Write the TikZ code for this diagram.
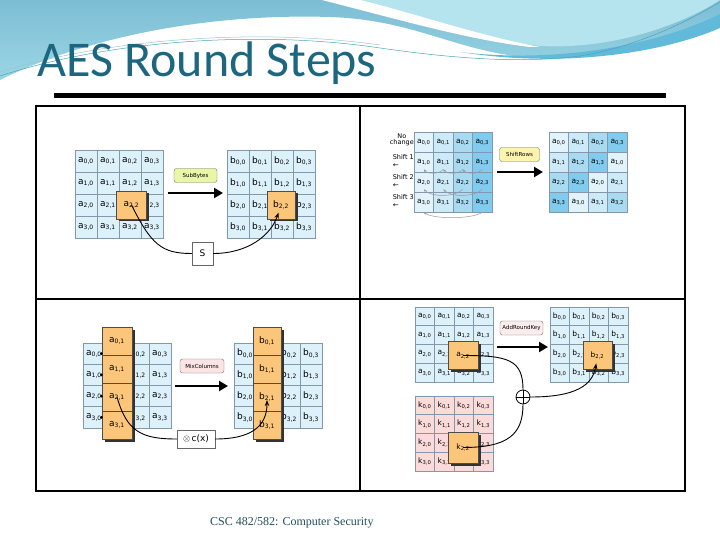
\documentclass[tikz,border=0pt]{standalone}
\usepackage{fontspec}
\setmainfont{Liberation Serif}
\newfontfamily\titlefont{Carlito}
\newfontfamily\cellfont{DejaVu Sans}
\usetikzlibrary{arrows.meta,shadows}

\definecolor{titleteal}{HTML}{1D6680}
\definecolor{footteal}{HTML}{234F5C}
\definecolor{skydark}{HTML}{7DBDD4}
\definecolor{skymid}{HTML}{9AD6E5}
\definecolor{skylight}{HTML}{B5E4EE}
\definecolor{skyband}{HTML}{62BADB}
\definecolor{skyline}{HTML}{4FA3B5}
\definecolor{cellblue}{HTML}{DDF1FB}
\definecolor{cellpink}{HTML}{FBDADA}
\definecolor{gridline}{HTML}{8398AA}
\definecolor{hilite}{HTML}{FBC67A}
\definecolor{shcol0}{HTML}{E2F3FB}
\definecolor{shcol1}{HTML}{CDEAF8}
\definecolor{shcol2}{HTML}{A8DAF2}
\definecolor{shcol3}{HTML}{80CBEE}
\definecolor{tagsub}{HTML}{E8F6A6}
\definecolor{tagshift}{HTML}{FCF4AE}
\definecolor{tagmix}{HTML}{FCE4E4}
\definecolor{tagkey}{HTML}{FCEDED}

\newcommand\elem[2]{#1\textsubscript{#2}}

\begin{document}
\begin{tikzpicture}[x=1pt,y=-1pt,
  cell/.style={rectangle, draw=gridline, line width=0.6pt, fill=cellblue, inner sep=0pt,
    minimum width=22pt, minimum height=22pt, font=\cellfont\fontsize{9}{9}\selectfont},
  smallcell/.style={cell, minimum width=19.5pt, minimum height=19pt, font=\cellfont\fontsize{7.5}{7.5}\selectfont},
  hl/.style={rectangle, draw=black!70, fill=hilite, inner sep=0pt, minimum width=30pt, minimum height=28pt,
    font=\cellfont\fontsize{9}{9}\selectfont,
    drop shadow={shadow xshift=2.5pt, shadow yshift=-2.5pt, opacity=1, fill=black!80}},
  tag/.style={rectangle, rounded corners=2.5pt, draw=black!55, inner sep=1.5pt, minimum height=14pt,
    font=\cellfont\fontsize{5.5}{6}\selectfont},
  opbox/.style={rectangle, draw=black!60, fill=white, inner sep=2pt, font=\cellfont\fontsize{9}{9}\selectfont},
  bigarrow/.style={line width=2.2pt, -{Triangle[length=9pt,width=10pt]}},
  link/.style={line width=0.9pt},
  shiftarc/.style={gray!80, line width=0.5pt, -{Stealth[length=3pt,width=2.5pt]}},
  side/.style={font=\cellfont\fontsize{6.5}{6.5}\selectfont, inner sep=0pt, align=left},
  dot/.style={circle, fill=black, inner sep=0pt, minimum size=3pt}]

  \useasboundingbox (0,0) rectangle (720,540);
  \fill[white] (0,0) rectangle (720,540);

  % sky at the top
  \shade[top color=skydark, bottom color=skymid] (0,0) -- (720,0) -- (720,22)
    .. controls (680,42) and (610,60) .. (540,58)
    .. controls (460,55) and (420,20) .. (330,17)
    .. controls (200,13) and (80,40) .. (0,80) -- cycle;
  \fill[skylight] (355,0) .. controls (420,15) and (480,40) .. (540,46)
    .. controls (620,50) and (690,20) .. (720,0) -- cycle;
  \fill[white] (322,0) .. controls (400,20) and (470,40) .. (530,47) -- (540,47)
    .. controls (480,36) and (410,12) .. (360,0) -- cycle;
  \fill[skyband] (460,52) .. controls (560,64) and (660,44) .. (720,14) -- (720,28)
    .. controls (660,54) and (560,68) .. (460,52) -- cycle;
  \draw[skyline, line width=0.5pt] (0,76) .. controls (110,40) and (260,30) .. (380,48)
    .. controls (450,58) and (520,64) .. (580,56) .. controls (640,46) and (690,20) .. (720,2);
  \draw[skyline!60, line width=0.5pt] (0,72) .. controls (110,38) and (260,28) .. (380,45);

  \node[anchor=base west, inner sep=0pt, text=titleteal, font=\titlefont\fontsize{50}{50}\selectfont] (title) at (37,77) {AES Round Steps};
  \draw[line width=5pt] (54,95.5) -- (666,95.5);

  \draw[line width=1.5pt] (36,106) rectangle (685,491);
  \draw[line width=1.5pt] (360,106) -- (360,491);
  \draw[line width=1.5pt] (36,299) -- (685,299);

  % SubBytes
  \foreach \i in {0,...,3}
    \foreach \j in {0,...,3} {
      \node[cell] (sa-\i\j) at ({86+22*\j},{161+22*\i}) {\ifnum\i\j=22 \else\elem{a}{\i,\j}\fi};
      \node[cell] (sb-\i\j) at ({238+22*\j},{161+22*\i}) {\ifnum\i\j=22 \else\elem{b}{\i,\j}\fi};
    }
  \node[hl] (sa22) at (131.5,205) {\elem{a}{2,2}};
  \node[hl, minimum width=28pt] (sb22) at (281,205) {\elem{b}{2,2}};
  \node[tag, fill=tagsub, minimum width=43pt] (subtag) at (195.5,175.5) {SubBytes};
  \coordinate (subfrom) at (168,193);
  \coordinate (subto) at (223,193);
  \draw[bigarrow] (subfrom) -- (subto);
  \node[opbox, minimum width=21pt, minimum height=23pt] (sbox) at (202.5,253.5) {S};
  \draw[link] (sa22.center) .. controls +(20,40) and +(-30,0) .. (sbox.west);
  \draw[link, -{Stealth[length=6pt]}, shorten >=8pt] (sbox.east) .. controls +(35,0) and +(-10,30) .. (sb22.center);

  % ShiftRows
  \foreach \i in {0,...,3}
    \foreach \j in {0,...,3} {
      \pgfmathtruncatemacro\shj{mod(\i+\j,4)}
      \node[smallcell, minimum height=20pt, fill=shcol\j] (rl-\i\j) at ({423.75+19.5*\j},{142+20*\i}) {\elem{a}{\i,\j}};
      \node[smallcell, minimum height=20pt, fill=shcol\shj] (rr-\i\j) at ({558.75+19.5*\j},{142+20*\i}) {\elem{a}{\i,\shj}};
    }
  \node[side, align=center, anchor=east] (nochange) at (414,140) {No\\change};
  \node[side, anchor=east] (shift1) at (414,161) {Shift 1\\[1.5pt]{\fontsize{7}{5}\selectfont ←}};
  \node[side, anchor=east] (shift2) at (414,181) {Shift 2\\[1.5pt]{\fontsize{7}{5}\selectfont ←}};
  \node[side, anchor=east] (shift3) at (414,201) {Shift 3\\[1.5pt]{\fontsize{7}{5}\selectfont ←}};
  \foreach \j/\p in {1/0,2/1,3/2}
    \draw[shiftarc] ([yshift=3pt]rl-1\j.south) .. controls +(-4,5) and +(4,5) .. ([yshift=3pt]rl-1\p.south);
  \foreach \j/\p in {2/0,3/1}
    \draw[shiftarc] ([yshift=3pt]rl-2\j.south) .. controls +(-8,8) and +(8,8) .. ([yshift=3pt]rl-2\p.south);
  \draw[shiftarc] (rl-33.south) .. controls +(-10,7) and +(10,7) .. (rl-30.south);
  \node[tag, fill=tagshift, minimum width=40pt] (shtag) at (519.5,154.5) {ShiftRows};
  \coordinate (shfrom) at (497,172);
  \coordinate (shto) at (543,172);
  \draw[bigarrow] (shfrom) -- (shto);

  % MixColumns
  \foreach \i in {0,...,3}
    \foreach \j in {0,...,3} {
      \node[cell, minimum height=21.25pt] (ma-\i\j) at ({94+22*\j},{353.6+21.25*\i}) {\ifnum\j=1 \else\elem{a}{\i,\j}\fi};
      \node[cell, minimum height=21.25pt] (mb-\i\j) at ({245+22*\j},{353.6+21.25*\i}) {\ifnum\j=1 \else\elem{b}{\i,\j}\fi};
    }
  \foreach \i in {0,...,3} {
    \node[hl] (mc-\i) at (117,{341+28*\i}) {\elem{a}{\i,1}};
    \node[hl, minimum width=28pt] (md-\i) at (267,{341+28*\i}) {\elem{b}{\i,1}};
    \node[dot] (dt-\i) at (101.5,{353.6+21.25*\i}) {};
  }
  \node[tag, fill=tagmix, minimum width=44pt] (mixtag) at (202,366) {MixColumns};
  \coordinate (mixfrom) at (175,386);
  \coordinate (mixto) at (228,386);
  \draw[bigarrow] (mixfrom) -- (mixto);
  \node[opbox, minimum width=38pt, minimum height=18pt] (cx) at (196,439) {$\otimes$\,c(x)};
  \draw[link] (mc-2.center) .. controls +(10,35) and +(-35,0) .. (cx.west);
  \draw[link, -{Stealth[length=6pt]}, shorten >=3pt] (cx.east) .. controls +(35,0) and +(0,30) .. (md-2.center);

  % AddRoundKey
  \foreach \i in {0,...,3}
    \foreach \j in {0,...,3} {
      \node[smallcell, minimum height=18.75pt] (ka-\i\j) at ({424.75+19.5*\j},{316.4+18.75*\i}) {\ifnum\i\j=22 \else\elem{a}{\i,\j}\fi};
      \node[smallcell, minimum height=18.75pt, fill=cellpink] (kk-\i\j) at ({424.75+19.5*\j},{405.4+18.75*\i}) {\ifnum\i\j=22 \else\elem{k}{\i,\j}\fi};
      \node[smallcell, minimum height=18.75pt] (kb-\i\j) at ({559.75+19.5*\j},{316.4+18.75*\i}) {\ifnum\i\j=22 \else\elem{b}{\i,\j}\fi};
    }
  \node[hl, font=\cellfont\fontsize{7.5}{7.5}\selectfont] (ka22) at (463,355.5) {\elem{a}{2,2}};
  \node[hl, minimum height=31pt, font=\cellfont\fontsize{7.5}{7.5}\selectfont] (kk22) at (463,447.5) {\elem{k}{2,2}};
  \node[hl, minimum width=29pt, font=\cellfont\fontsize{7.5}{7.5}\selectfont] (kb22) at (597.5,355.5) {\elem{b}{2,2}};
  \node[tag, fill=tagkey, minimum width=43pt] (keytag) at (521.5,328) {AddRoundKey};
  \coordinate (keyfrom) at (497,347);
  \coordinate (keyto) at (548,347);
  \draw[bigarrow] (keyfrom) -- (keyto);
  \node[circle, draw, line width=0.8pt, minimum size=14pt, inner sep=0pt,
    path picture={\draw[line width=0.8pt] (path picture bounding box.north) -- (path picture bounding box.south)
      (path picture bounding box.west) -- (path picture bounding box.east);}] (xor) at (523,397) {};
  \draw[link] (ka22.center) .. controls +(45,0) and +(0,-30) .. (xor.north);
  \draw[link] (kk22.center) .. controls +(45,0) and +(0,30) .. (xor.south);
  \draw[link, -{Stealth[length=6pt]}, shorten >=8pt] (xor.east) .. controls +(45,0) and +(-5,30) .. (kb22.center);

  \node[anchor=base west, inner sep=0pt, text=footteal, font=\fontsize{12}{12}\selectfont] (foot) at (210,525) {CSC 482/582: Computer Security};
\end{tikzpicture}
\end{document}
